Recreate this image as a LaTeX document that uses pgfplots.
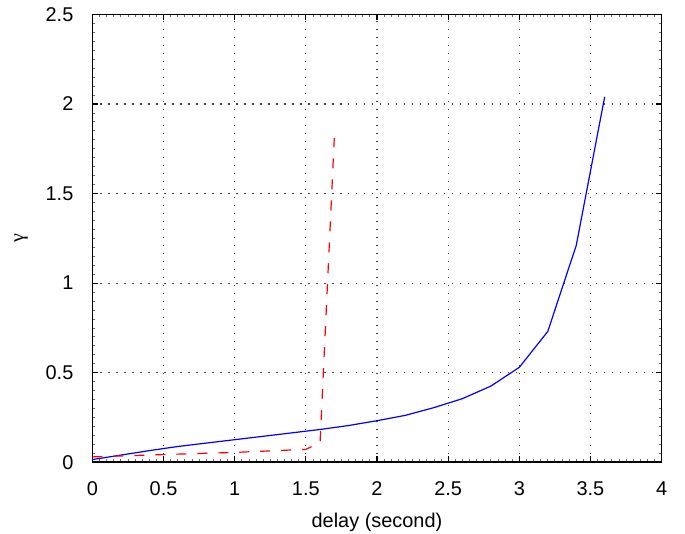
\documentclass[border=0pt]{standalone}
\usepackage{pgfplots}
\pgfplotsset{compat=1.18}
\usepackage{fontspec}
\setmainfont{Liberation Sans}
\newfontfamily\greekserif{Liberation Serif}

\begin{document}
\begin{tikzpicture}
\begin{axis}[
    scale only axis,
    width=284.7bp, height=224bp,
    xmin=0, xmax=4, ymin=0, ymax=2.5,
    xtick={0,0.5,...,4}, ytick={0,0.5,...,2.5},
    xticklabels={0,0.5,1,1.5,2,2.5,3,3.5,4},
    yticklabels={0,0.5,1,1.5,2,2.5},
    minor x tick num=9, minor y tick num=9,
    tick align=inside,
    major tick length=3bp, minor tick length=1.5bp,
    tick style={black, line width=0.6bp},
    minor tick style={black!60, line width=0.4bp},
    axis line style={line width=0.8bp},
    grid=major,
    major grid style={black!75, line width=0.6bp, dash pattern=on 0.6bp off 3.4bp},
    tick label style={font=\fontsize{10}{12}\selectfont},
    xticklabel style={yshift=-6bp},
    yticklabel style={xshift=-6bp},
    xlabel={delay (second)},
    ylabel={{\greekserif γ}},
    label style={font=\fontsize{10}{12}\selectfont},
    xlabel style={yshift=-2bp},
    ylabel style={yshift=2bp},
]
\addplot[color=blue, line width=0.6bp] coordinates {
    (0,0.015)(0.2,0.04)(0.4,0.065)(0.6,0.088)(0.8,0.107)(1.0,0.126)
    (1.2,0.145)(1.4,0.164)(1.6,0.183)(1.8,0.205)(2.0,0.232)(2.2,0.262)
    (2.4,0.305)(2.6,0.355)(2.8,0.425)(3.0,0.53)(3.2,0.73)(3.4,1.21)(3.6,2.04)
};
\addplot[color=red, line width=0.6bp, dash pattern=on 5bp off 5.5bp] coordinates {
    (0,0.03)(0.5,0.043)(1.0,0.055)(1.5,0.072)(1.6,0.11)(1.7,1.81)
};
\end{axis}
\pgfresetboundingbox
\path[use as bounding box] ([xshift=-46.2bp,yshift=-35.4bp]current axis.south west)
    rectangle ([xshift=11.7bp,yshift=7.2bp]current axis.north east);
\end{tikzpicture}
\end{document}
